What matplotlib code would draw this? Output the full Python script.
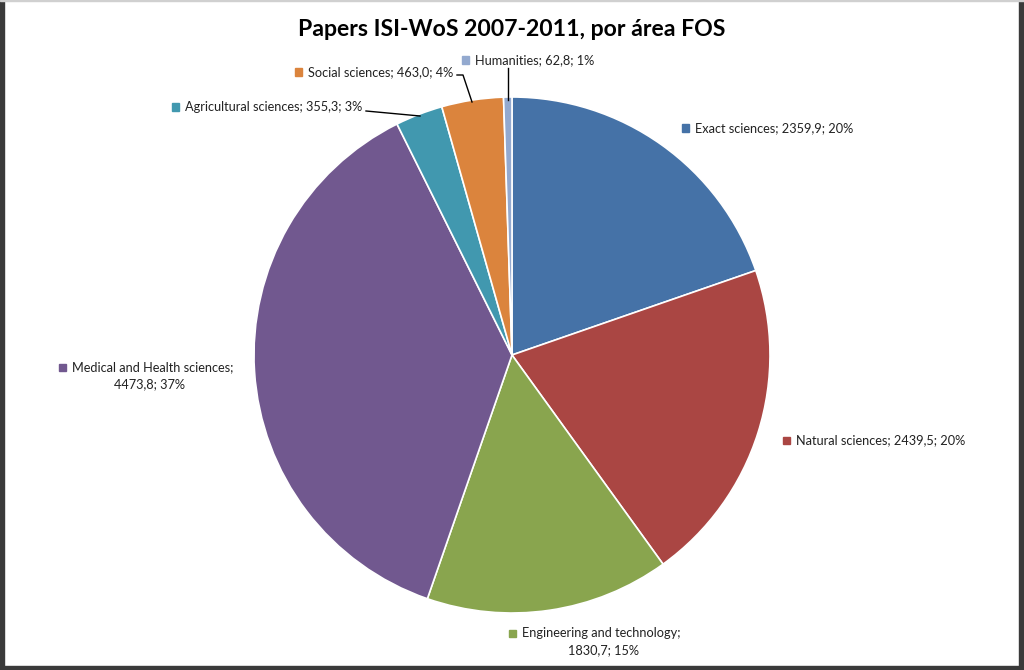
import numpy as np
import matplotlib.pyplot as plt
from matplotlib.patches import Rectangle

categories = ["Exact sciences", "Natural sciences", "Engineering and technology",
              "Medical and Health sciences", "Agricultural sciences",
              "Social sciences", "Humanities"]
values = [2359.9, 2439.5, 1830.7, 4473.8, 355.3, 463.0, 62.8]
value_labels = ["2359,9", "2439,5", "1830,7", "4473,8", "355,3", "463,0", "62,8"]
pct_labels = ["20%", "20%", "15%", "37%", "3%", "4%", "1%"]
colors = ["#4572A7", "#AA4643", "#89A54E", "#71588F", "#4198AF", "#DB843D", "#93A9CF"]

W, H = 1024, 670
fig = plt.figure(figsize=(W / 100, H / 100), dpi=100)
plt.rcParams['font.family'] = ['Lato', 'DejaVu Sans']

# pie centre (512, 355) px, radius 258 px
cx, cy, r = 512, 355, 258
ax = fig.add_axes([(cx - r) / W, 1 - (cy + r) / H, 2 * r / W, 2 * r / H])
ax.pie(values, colors=colors, startangle=90, counterclock=False, radius=1,
       wedgeprops=dict(edgecolor="white", linewidth=1.2))
ax.set_xlim(-1, 1)
ax.set_ylim(-1, 1)
ax.set_aspect("equal")
ax.axis("off")

fig.text(0.5, 1 - 30 / H, "Papers ISI-WoS 2007-2011, por área FOS", ha="center", va="center",
         fontsize=16.6, fontweight="bold", color="black")


def px(x, y):
    return x / W, 1 - y / H


def label(i, sx, sy, line1, line2=None, cx2=None):
    fig.patches.append(Rectangle(px(sx - 3.5, sy + 3.5), 7 / W, 7 / H,
                                 transform=fig.transFigure, color=colors[i]))
    fig.text(*px(sx + 10, sy), line1, ha="left", va="center", fontsize=9.2, color="#222222")
    if line2 is not None:
        fig.text(*px(cx2, sy + 17), line2, ha="center", va="center", fontsize=9.2, color="#222222")


def full(i):
    return "{}; {}; {}".format(categories[i], value_labels[i], pct_labels[i])


label(0, 685, 128, full(0))
label(1, 786, 440, full(1))
label(2, 512, 633, categories[2] + ";", "{}; {}".format(value_labels[2], pct_labels[2]), 603)
label(3, 62, 367, categories[3] + ";", "{}; {}".format(value_labels[3], pct_labels[3]), 150)
label(4, 175, 107, full(4))
label(5, 298, 72, full(5))
label(6, 465, 60, full(6))

# leader lines
leaders = [[(366, 111), (420, 116)],
           [(457, 75), (463, 75), (472, 102)],
           [(508, 68), (508, 100)]]
for pts in leaders:
    xs = [p[0] / W for p in pts]
    ys = [1 - p[1] / H for p in pts]
    fig.add_artist(plt.Line2D(xs, ys, transform=fig.transFigure, color="black", lw=1))

# dark frame
fig.patches.append(Rectangle((0, 0), 4 / W, 1, transform=fig.transFigure, color="#3a3a3a"))
fig.patches.append(Rectangle((1 - 5 / W, 0), 5 / W, 1, transform=fig.transFigure, color="#3a3a3a"))
fig.patches.append(Rectangle((0, 0), 1, 4 / H, transform=fig.transFigure, color="#3a3a3a"))
fig.patches.append(Rectangle((0, 1 - 1 / H), 1, 1 / H, transform=fig.transFigure, color="#d0d0d0"))

fig.savefig("out.png", dpi=100, facecolor="white")
